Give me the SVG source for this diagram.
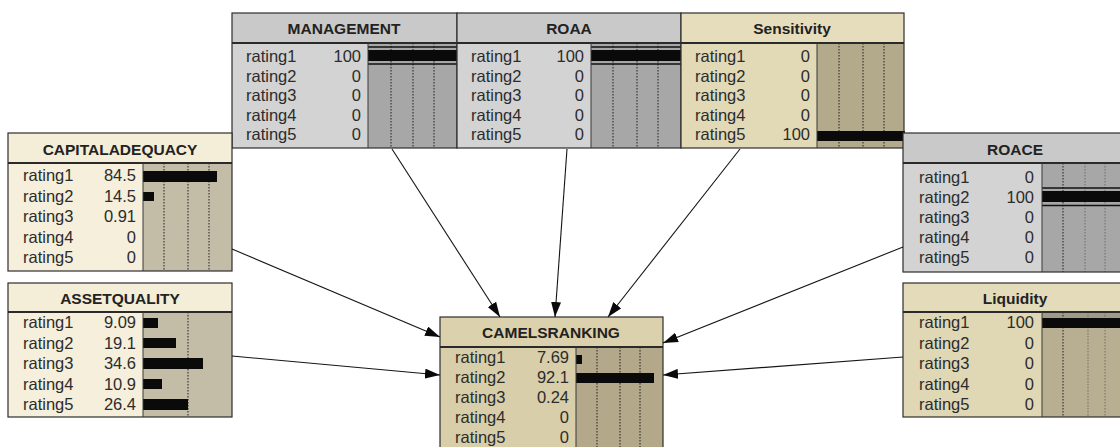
<svg xmlns="http://www.w3.org/2000/svg" width="1120" height="447" viewBox="0 0 1120 447">
  <style>
    .box { stroke: #2e2e2e; stroke-width: 1.2; }
    .sep { stroke: #2a2a2a; stroke-width: 1.8; }
    .div { stroke: #3a3a3a; stroke-width: 1; }
    .grid { stroke: #1e1e1e; stroke-width: 1; stroke-dasharray: 1.5 1.5; }
    .grid2 { stroke: #555; stroke-width: 1; stroke-dasharray: 1.5 1.5; opacity: 0.7; }
    .bar { fill: #0a0a0a; }
    .fl { stroke: #111; stroke-width: 1.5; }
    .title { font-family: "Liberation Sans", Arial, sans-serif; font-weight: bold; font-size: 15.5px; fill: #222; text-anchor: middle; }
    .lab { font-family: "Liberation Sans", Arial, sans-serif; font-size: 16.5px; fill: #2c2c2c; }
    .val { font-family: "Liberation Sans", Arial, sans-serif; font-size: 16.5px; fill: #2c2c2c; text-anchor: end; }
    .g-h { fill: #c9c9c9; } .g-b { fill: #d3d3d3; } .g-r { fill: #a7a7a7; }
    .s-h { fill: #e6ddbd; } .s-b { fill: #e2d9b7; } .s-r { fill: #b3aa8c; }
    .c-h { fill: #f4edd7; } .c-b { fill: #f6efdc; } .c-r { fill: #c3bca6; }
    .k-h { fill: #dbd1ad; } .k-b { fill: #d8cea9; } .k-r { fill: #b3a98a; }
    .l-h { fill: #e4dbba; } .l-b { fill: #e0d7b5; } .l-r { fill: #b8af92; }
    .edge { stroke: #151515; stroke-width: 1.1; fill: none; marker-end: url(#arrow); }
  </style>
  <defs>
    <marker id="arrow" markerUnits="userSpaceOnUse" markerWidth="16" markerHeight="10" refX="15" refY="5" orient="auto">
      <path d="M0,0 L15,5 L0,10 z" fill="#0a0a0a"/>
    </marker>
  </defs>
  <rect width="1120" height="447" fill="#ffffff"/>

  <!-- MANAGEMENT -->
  <g id="management">
    <rect class="g-h" x="232" y="13" width="225" height="30"/>
    <rect class="g-b" x="232" y="43" width="136" height="105"/>
    <rect class="g-r" x="368" y="43" width="89" height="105"/>
    <line class="grid" x1="391" y1="43" x2="391" y2="148"/>
    <line class="grid" x1="413" y1="43" x2="413" y2="148"/>
    <line class="grid" x1="434" y1="43" x2="434" y2="148"/>
    <line class="fl" x1="368" y1="47" x2="457" y2="47"/>
    <rect class="bar" x="368" y="50" width="89" height="11"/>
    <line class="fl" x1="368" y1="64" x2="457" y2="64"/>
    <rect class="box" x="232" y="13" width="225" height="135" fill="none"/>
    <line class="sep" x1="232" y1="43" x2="457" y2="43"/>
    <line class="div" x1="368" y1="43" x2="368" y2="148"/>
    <text class="title" x="344" y="34">MANAGEMENT</text>
    <text class="lab" x="246" y="62">rating1</text>
    <text class="lab" x="246" y="81.5">rating2</text>
    <text class="lab" x="246" y="101">rating3</text>
    <text class="lab" x="246" y="120.5">rating4</text>
    <text class="lab" x="246" y="140">rating5</text>
    <text class="val" x="361" y="62">100</text>
    <text class="val" x="361" y="81.5">0</text>
    <text class="val" x="361" y="101">0</text>
    <text class="val" x="361" y="120.5">0</text>
    <text class="val" x="361" y="140">0</text>
  </g>

  <!-- ROAA -->
  <g id="roaa">
    <rect class="g-h" x="457" y="13" width="224" height="30"/>
    <rect class="g-b" x="457" y="43" width="134" height="105"/>
    <rect class="g-r" x="591" y="43" width="90" height="105"/>
    <line class="grid" x1="613" y1="43" x2="613" y2="148"/>
    <line class="grid" x1="637" y1="43" x2="637" y2="148"/>
    <line class="grid" x1="658" y1="43" x2="658" y2="148"/>
    <line class="fl" x1="591" y1="47" x2="681" y2="47"/>
    <rect class="bar" x="591" y="50" width="90" height="11"/>
    <line class="fl" x1="591" y1="64" x2="681" y2="64"/>
    <rect class="box" x="457" y="13" width="224" height="135" fill="none"/>
    <line class="sep" x1="457" y1="43" x2="681" y2="43"/>
    <line class="div" x1="591" y1="43" x2="591" y2="148"/>
    <text class="title" x="569" y="34">ROAA</text>
    <text class="lab" x="471" y="62">rating1</text>
    <text class="lab" x="471" y="81.5">rating2</text>
    <text class="lab" x="471" y="101">rating3</text>
    <text class="lab" x="471" y="120.5">rating4</text>
    <text class="lab" x="471" y="140">rating5</text>
    <text class="val" x="584" y="62">100</text>
    <text class="val" x="584" y="81.5">0</text>
    <text class="val" x="584" y="101">0</text>
    <text class="val" x="584" y="120.5">0</text>
    <text class="val" x="584" y="140">0</text>
  </g>

  <!-- Sensitivity -->
  <g id="sensitivity">
    <rect class="s-h" x="681" y="13" width="223" height="30"/>
    <rect class="s-b" x="681" y="43" width="136" height="105"/>
    <rect class="s-r" x="817" y="43" width="87" height="105"/>
    <line class="grid" x1="839" y1="43" x2="839" y2="148"/>
    <line class="grid" x1="863" y1="43" x2="863" y2="148"/>
    <line class="grid" x1="884" y1="43" x2="884" y2="148"/>
    <rect class="bar" x="817" y="131" width="88" height="10"/>
    <rect class="box" x="681" y="13" width="223" height="135" fill="none"/>
    <line class="sep" x1="681" y1="43" x2="904" y2="43"/>
    <line class="div" x1="817" y1="43" x2="817" y2="148"/>
    <text class="title" x="792" y="34">Sensitivity</text>
    <text class="lab" x="695" y="62">rating1</text>
    <text class="lab" x="695" y="81.5">rating2</text>
    <text class="lab" x="695" y="101">rating3</text>
    <text class="lab" x="695" y="120.5">rating4</text>
    <text class="lab" x="695" y="140">rating5</text>
    <text class="val" x="810" y="62">0</text>
    <text class="val" x="810" y="81.5">0</text>
    <text class="val" x="810" y="101">0</text>
    <text class="val" x="810" y="120.5">0</text>
    <text class="val" x="810" y="140">100</text>
  </g>

  <!-- CAPITALADEQUACY -->
  <g id="capitaladequacy">
    <rect class="c-h" x="8" y="133" width="224" height="30"/>
    <rect class="c-b" x="8" y="163" width="135" height="108"/>
    <rect class="c-r" x="143" y="163" width="89" height="108"/>
    <line class="grid" x1="164" y1="163" x2="164" y2="271"/>
    <line class="grid" x1="188" y1="163" x2="188" y2="271"/>
    <line class="grid" x1="209" y1="163" x2="209" y2="271"/>
    <rect class="bar" x="143" y="171" width="74" height="11"/>
    <rect class="bar" x="143" y="192" width="11" height="9"/>
    <rect class="box" x="8" y="133" width="224" height="138" fill="none"/>
    <line class="sep" x1="8" y1="163" x2="232" y2="163"/>
    <line class="div" x1="143" y1="163" x2="143" y2="271"/>
    <text class="title" x="120" y="155">CAPITALADEQUACY</text>
    <text class="lab" x="23" y="181">rating1</text>
    <text class="lab" x="23" y="201.5">rating2</text>
    <text class="lab" x="23" y="222">rating3</text>
    <text class="lab" x="23" y="242.5">rating4</text>
    <text class="lab" x="23" y="263">rating5</text>
    <text class="val" x="136" y="181">84.5</text>
    <text class="val" x="136" y="201.5">14.5</text>
    <text class="val" x="136" y="222">0.91</text>
    <text class="val" x="136" y="242.5">0</text>
    <text class="val" x="136" y="263">0</text>
  </g>

  <!-- ASSETQUALITY -->
  <g id="assetquality">
    <rect class="c-h" x="8" y="283" width="224" height="29"/>
    <rect class="c-b" x="8" y="312" width="135" height="105"/>
    <rect class="c-r" x="143" y="312" width="89" height="105"/>
    <line class="grid" x1="188" y1="312" x2="188" y2="417"/>
    <rect class="bar" x="143" y="318" width="15" height="10"/>
    <rect class="bar" x="143" y="338" width="33" height="10"/>
    <rect class="bar" x="143" y="358" width="60" height="11"/>
    <rect class="bar" x="143" y="379" width="19" height="10"/>
    <rect class="bar" x="143" y="399" width="45" height="11"/>
    <rect class="box" x="8" y="283" width="224" height="134" fill="none"/>
    <line class="sep" x1="8" y1="312" x2="232" y2="312"/>
    <line class="div" x1="143" y1="312" x2="143" y2="417"/>
    <text class="title" x="120" y="304">ASSETQUALITY</text>
    <text class="lab" x="23" y="328">rating1</text>
    <text class="lab" x="23" y="348.5">rating2</text>
    <text class="lab" x="23" y="369">rating3</text>
    <text class="lab" x="23" y="389.5">rating4</text>
    <text class="lab" x="23" y="410">rating5</text>
    <text class="val" x="136" y="328">9.09</text>
    <text class="val" x="136" y="348.5">19.1</text>
    <text class="val" x="136" y="369">34.6</text>
    <text class="val" x="136" y="389.5">10.9</text>
    <text class="val" x="136" y="410">26.4</text>
  </g>

  <!-- CAMELSRANKING -->
  <g id="camelsranking">
    <rect class="k-h" x="440" y="317" width="223" height="30"/>
    <rect class="k-b" x="440" y="347" width="136" height="110"/>
    <rect class="k-r" x="576" y="347" width="87" height="110"/>
    <line class="grid" x1="597" y1="347" x2="597" y2="457"/>
    <line class="grid" x1="620" y1="347" x2="620" y2="457"/>
    <line class="grid" x1="640" y1="347" x2="640" y2="457"/>
    <rect class="bar" x="576" y="355" width="6" height="9"/>
    <rect class="bar" x="576" y="373" width="78" height="10"/>
    <rect class="box" x="440" y="317" width="223" height="140" fill="none"/>
    <line class="sep" x1="440" y1="347" x2="663" y2="347"/>
    <line class="div" x1="576" y1="347" x2="576" y2="457"/>
    <text class="title" x="551" y="338">CAMELSRANKING</text>
    <text class="lab" x="455" y="363">rating1</text>
    <text class="lab" x="455" y="383">rating2</text>
    <text class="lab" x="455" y="403">rating3</text>
    <text class="lab" x="455" y="423">rating4</text>
    <text class="lab" x="455" y="443">rating5</text>
    <text class="val" x="569" y="363">7.69</text>
    <text class="val" x="569" y="383">92.1</text>
    <text class="val" x="569" y="403">0.24</text>
    <text class="val" x="569" y="423">0</text>
    <text class="val" x="569" y="443">0</text>
  </g>

  <!-- ROACE -->
  <g id="roace">
    <rect class="g-h" x="903" y="133" width="224" height="30"/>
    <rect class="g-b" x="903" y="163" width="139" height="109"/>
    <rect class="g-r" x="1042" y="163" width="85" height="109"/>
    <line class="grid" x1="1063" y1="163" x2="1063" y2="272"/>
    <line class="grid2" x1="1085" y1="163" x2="1085" y2="272"/>
    <line class="grid2" x1="1105" y1="163" x2="1105" y2="272"/>
    <line class="fl" x1="1042" y1="188" x2="1127" y2="188"/>
    <rect class="bar" x="1042" y="191" width="85" height="11"/>
    <line class="fl" x1="1042" y1="205.5" x2="1127" y2="205.5"/>
    <rect class="box" x="903" y="133" width="224" height="139" fill="none"/>
    <line class="sep" x1="903" y1="163" x2="1127" y2="163"/>
    <line class="div" x1="1042" y1="163" x2="1042" y2="272" stroke-width="1.6"/>
    <text class="title" x="1015" y="155">ROACE</text>
    <text class="lab" x="919" y="183">rating1</text>
    <text class="lab" x="919" y="203">rating2</text>
    <text class="lab" x="919" y="223">rating3</text>
    <text class="lab" x="919" y="243">rating4</text>
    <text class="lab" x="919" y="263">rating5</text>
    <text class="val" x="1034" y="183">0</text>
    <text class="val" x="1034" y="203">100</text>
    <text class="val" x="1034" y="223">0</text>
    <text class="val" x="1034" y="243">0</text>
    <text class="val" x="1034" y="263">0</text>
  </g>

  <!-- Liquidity -->
  <g id="liquidity">
    <rect class="l-h" x="903" y="283" width="224" height="29"/>
    <rect class="l-b" x="903" y="312" width="139" height="105"/>
    <rect class="l-r" x="1042" y="312" width="85" height="105"/>
    <rect x="1042" y="312" width="85" height="6" fill="#9f9a8a"/>
    <line class="grid" x1="1063" y1="312" x2="1063" y2="417"/>
    <line class="grid2" x1="1088" y1="312" x2="1088" y2="417"/>
    <line class="grid2" x1="1105" y1="312" x2="1105" y2="417"/>
    <rect class="bar" x="1042" y="318" width="85" height="10"/>
    <rect class="box" x="903" y="283" width="224" height="134" fill="none"/>
    <line class="sep" x1="903" y1="312" x2="1127" y2="312"/>
    <line class="div" x1="1042" y1="312" x2="1042" y2="417" stroke-width="1.6"/>
    <text class="title" x="1015" y="304">Liquidity</text>
    <text class="lab" x="919" y="328">rating1</text>
    <text class="lab" x="919" y="348.5">rating2</text>
    <text class="lab" x="919" y="369">rating3</text>
    <text class="lab" x="919" y="389.5">rating4</text>
    <text class="lab" x="919" y="410">rating5</text>
    <text class="val" x="1034" y="328">100</text>
    <text class="val" x="1034" y="348.5">0</text>
    <text class="val" x="1034" y="369">0</text>
    <text class="val" x="1034" y="389.5">0</text>
    <text class="val" x="1034" y="410">0</text>
  </g>

  <!-- links into CAMELSRANKING -->
  <g id="connectors">
    <line class="edge" x1="392" y1="149" x2="500" y2="317"/>
    <line class="edge" x1="567" y1="149" x2="555" y2="317"/>
    <line class="edge" x1="740" y1="149" x2="608" y2="317"/>
    <line class="edge" x1="232" y1="249" x2="440" y2="337"/>
    <line class="edge" x1="232" y1="356" x2="440" y2="375"/>
    <line class="edge" x1="903" y1="247" x2="663" y2="343"/>
    <line class="edge" x1="903" y1="357" x2="663" y2="375"/>
  </g>
</svg>
